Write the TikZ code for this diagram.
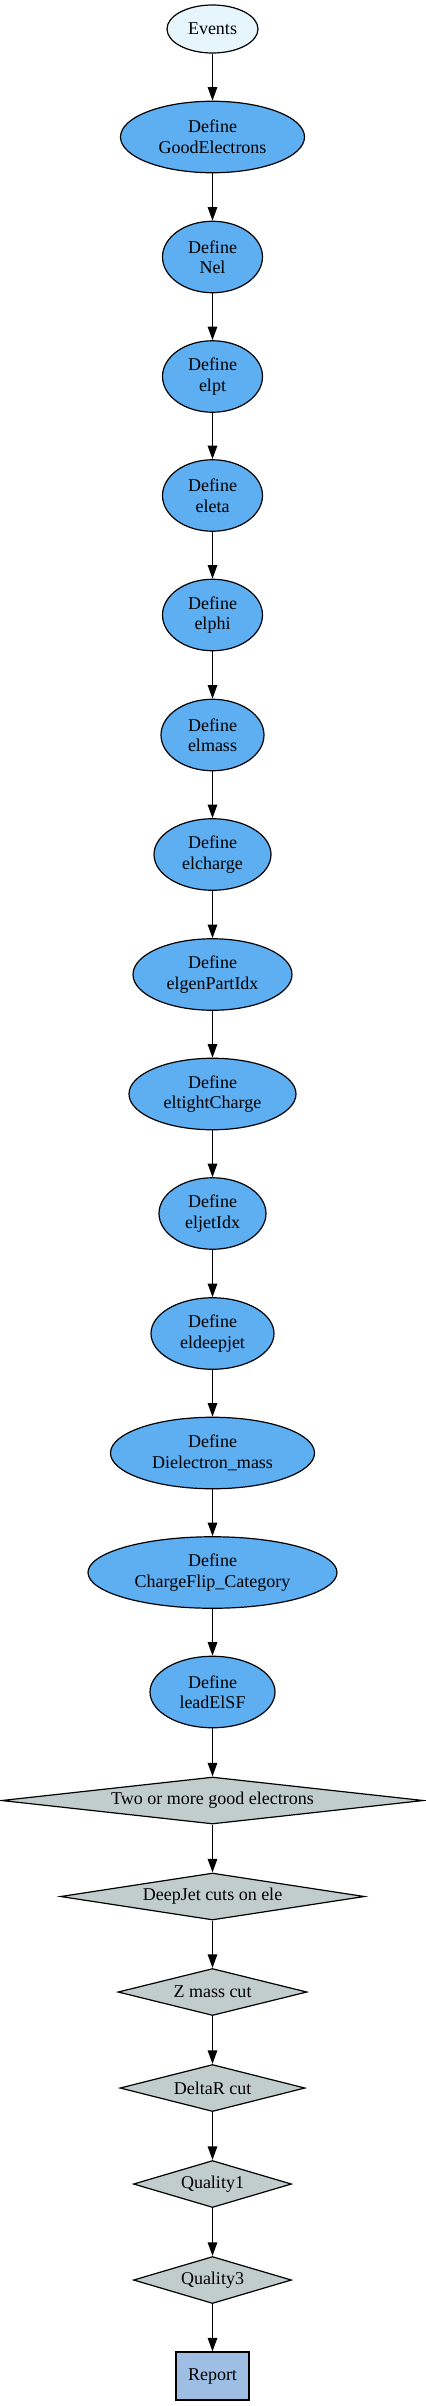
\documentclass[tikz,border=0pt]{standalone}
\usepackage{fontspec}
\setmainfont{Liberation Serif}
\usetikzlibrary{shapes.geometric,arrows.meta}
\definecolor{evfill}{HTML}{E6F6FC}
\definecolor{deffill}{HTML}{5EAEF2}
\definecolor{cutfill}{HTML}{C1CDCD}
\definecolor{repfill}{HTML}{9FBEE4}
\begin{document}
\begin{tikzpicture}[x=1bp,y=-1bp,
  base/.style={draw=black,line width=1.2bp,inner sep=0pt,align=center,
    font=\fontsize{18bp}{20.5bp}\selectfont},
  startnode/.style={base,ellipse,fill=evfill,minimum height=48bp},
  defnode/.style={base,ellipse,fill=deffill,minimum height=71.5bp},
  cutnode/.style={base,diamond,fill=cutfill,minimum height=47bp},
  repnode/.style={base,rectangle,fill=repfill,minimum width=73bp,minimum height=48bp},
  flow/.style={line width=1.2bp,-{Triangle[length=13.5bp,width=9.5bp]}}]
\useasboundingbox (0,0) rectangle (425,2406);
\node[startnode,minimum width=91bp] (ev) at (212.5,29) {Events};
\node[defnode,minimum width=184bp] (good) at (212.5,137) {Define\\GoodElectrons};
\node[defnode,minimum width=100bp] (nel) at (212.5,257) {Define\\Nel};
\node[defnode,minimum width=100bp] (pt) at (212.5,376.5) {Define\\elpt};
\node[defnode,minimum width=100bp] (eta) at (212.5,495.5) {Define\\eleta};
\node[defnode,minimum width=100bp] (phi) at (212.5,615) {Define\\elphi};
\node[defnode,minimum width=103bp] (mass) at (212.5,735) {Define\\elmass};
\node[defnode,minimum width=117bp] (charge) at (212.5,854.5) {Define\\elcharge};
\node[defnode,minimum width=159bp] (gen) at (212.5,974.5) {Define\\elgenPartIdx};
\node[defnode,minimum width=167bp] (tight) at (212.5,1094) {Define\\eltightCharge};
\node[defnode,minimum width=107bp] (jet) at (212.5,1213.5) {Define\\eljetIdx};
\node[defnode,minimum width=123bp] (deep) at (212.5,1333.5) {Define\\eldeepjet};
\node[defnode,minimum width=204bp] (diel) at (212.5,1453) {Define\\Dielectron\_mass};
\node[defnode,minimum width=249bp] (flip) at (212.5,1572.5) {Define\\ChargeFlip\_Category};
\node[defnode,minimum width=125bp] (sf) at (212.5,1692) {Define\\leadElSF};
\node[cutnode,minimum width=422bp,aspect=8.98] (two) at (212.5,1800.5) {Two or more good electrons};
\node[cutnode,minimum width=304bp,aspect=6.47] (dj) at (212.5,1896.5) {DeepJet cuts on ele};
\node[cutnode,minimum width=189bp,aspect=4.02] (zm) at (212.5,1992) {Z mass cut};
\node[cutnode,minimum width=185bp,aspect=3.94] (dr) at (212.5,2088) {DeltaR cut};
\node[cutnode,minimum width=158bp,aspect=3.36] (q1) at (212.5,2184) {Quality1};
\node[cutnode,minimum width=158bp,aspect=3.36] (q3) at (212.5,2280) {Quality3};
\node[repnode] (rep) at (212.5,2376) {Report};
\foreach \a/\b in {ev/good,good/nel,nel/pt,pt/eta,eta/phi,phi/mass,mass/charge,charge/gen,gen/tight,tight/jet,jet/deep,deep/diel,diel/flip,flip/sf,sf/two,two/dj,dj/zm,zm/dr,dr/q1,q1/q3,q3/rep}
  \draw[flow] (\a) -- (\b);
\end{tikzpicture}
\end{document}
